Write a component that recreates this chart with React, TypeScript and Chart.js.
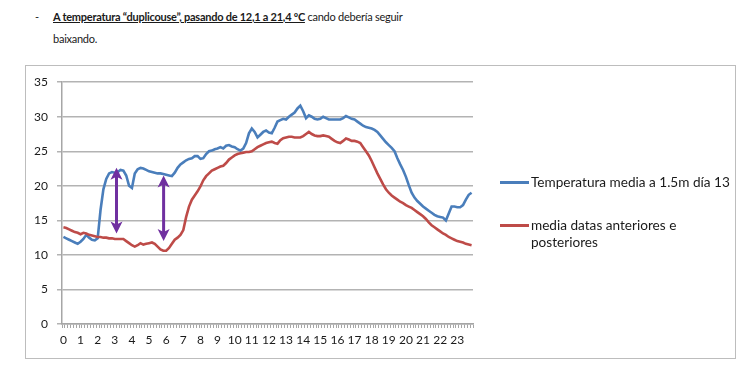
import React, { useEffect, useRef } from 'react';
import { Chart, registerables } from 'chart.js';

Chart.register(...registerables);

// Hour tick labels (data every 10 minutes, 6 samples per hour)
const hourLabels = ['0', '1', '2', '3', '4', '5', '6', '7', '8', '9', '10', '11', '12', '13', '14', '15', '16', '17', '18', '19', '20', '21', '22', '23'];
const minuteLabels = ['00', '10', '20', '30', '40', '50'];

// Temperatura media a 1.5m día 13
const tempDay13 = [
  12.6, 12.4, 12.2, 12.0, 11.8, 11.6,
  11.9, 12.3, 12.9, 12.5, 12.2, 12.1,
  12.4, 16.5, 19.5, 21.0, 21.8, 22.0,
  21.9, 22.0, 22.3, 22.2, 21.5, 20.0,
  19.7, 21.8, 22.4, 22.6, 22.5, 22.3,
  22.1, 22.0, 21.9, 21.8, 21.8, 21.7,
  21.6, 21.5, 21.4, 21.9, 22.6, 23.1,
  23.4, 23.7, 23.9, 24.0, 24.3, 24.3,
  23.9, 24.0, 24.6, 25.0, 25.1, 25.3,
  25.4, 25.6, 25.4, 25.8, 25.9, 25.7,
  25.6, 25.3, 25.1, 25.4, 26.2, 27.6,
  28.3, 27.8, 27.0, 27.4, 27.8, 28.0,
  27.7, 27.6, 28.4, 29.3, 29.5, 29.7,
  29.6, 30.0, 30.3, 30.6, 31.2, 31.6,
  30.8, 29.8, 30.2, 30.0, 29.7, 29.6,
  29.7, 30.0, 29.8, 29.6, 29.6, 29.6,
  29.6, 29.6, 29.8, 30.1, 29.9, 29.7,
  29.6, 29.3, 29.0, 28.7, 28.5, 28.4,
  28.3, 28.1, 27.8, 27.3, 26.8, 26.3,
  25.9, 25.5, 25.0, 24.0, 23.1, 22.3,
  21.3, 20.1, 19.0, 18.3, 17.8, 17.4,
  17.0, 16.7, 16.4, 16.1, 15.8, 15.6,
  15.5, 15.4, 15.0, 16.0, 17.0, 17.0,
  16.9, 16.9, 17.2, 18.0, 18.7, 19.0,
];

// media datas anteriores e posteriores
const tempMeanAround = [
  14.0, 13.9, 13.7, 13.5, 13.3, 13.2,
  13.0, 13.2, 13.1, 12.9, 12.8, 12.7,
  12.6, 12.6, 12.5, 12.5, 12.4, 12.4,
  12.3, 12.3, 12.3, 12.3, 12.0, 11.7,
  11.4, 11.2, 11.4, 11.7, 11.5, 11.6,
  11.7, 11.8, 11.6, 11.2, 10.8, 10.6,
  10.6, 11.0, 11.6, 12.2, 12.5, 12.9,
  13.6, 15.5, 17.0, 18.0, 18.6, 19.2,
  19.9, 20.8, 21.4, 21.8, 22.2, 22.4,
  22.6, 22.8, 22.9, 23.3, 23.8, 24.1,
  24.4, 24.6, 24.7, 24.8, 24.9, 24.9,
  25.0, 25.3, 25.6, 25.8, 26.0, 26.2,
  26.3, 26.4, 26.2, 26.1, 26.6, 26.9,
  27.0, 27.1, 27.1, 27.0, 27.0, 27.0,
  27.2, 27.5, 27.8, 27.5, 27.3, 27.2,
  27.2, 27.3, 27.2, 27.1, 26.8, 26.5,
  26.3, 26.2, 26.5, 26.85, 26.7, 26.5,
  26.5, 26.4, 26.2, 25.6, 25.0, 24.4,
  23.6, 22.7, 21.8, 21.0, 20.2, 19.5,
  19.0, 18.6, 18.3, 18.0, 17.7, 17.5,
  17.2, 17.0, 16.8, 16.5, 16.2, 15.9,
  15.6, 15.2, 14.7, 14.3, 14.0, 13.7,
  13.4, 13.1, 12.9, 12.6, 12.4, 12.2,
  12.0, 11.9, 11.8, 11.6, 11.5, 11.4,
];

// Purple double arrows (hour, top value, bottom value)
const arrowHours = [3.1, 5.85];
const arrowTops = [22.6, 21.5];
const arrowBottoms = [13.1, 12.0];

const seriesNames = ['Temperatura media a 1.5m día 13', 'media datas anteriores e posteriores'];

const BLUE = '#4A7EBB';
const RED = '#BE4B48';
const PURPLE = '#7030A0';
const GRID = '#B3B3B3';
const FONT = 'Lato, "Open Sans", sans-serif';

const categories = hourLabels.flatMap((h) => minuteLabels.map((m) => `${h}:${m}`));

const arrowPlugin = {
  id: 'purpleArrows',
  afterDatasetsDraw(chart: any) {
    const { ctx, scales } = chart;
    const xs = scales.x;
    const ys = scales.y;
    ctx.save();
    ctx.strokeStyle = PURPLE;
    ctx.fillStyle = PURPLE;
    ctx.lineWidth = 3;
    arrowHours.forEach((h, i) => {
      const x = xs.getPixelForValue(h * minuteLabels.length);
      const yT = ys.getPixelForValue(arrowTops[i]);
      const yB = ys.getPixelForValue(arrowBottoms[i]);
      ctx.beginPath();
      ctx.moveTo(x, yT + 6);
      ctx.lineTo(x, yB - 6);
      ctx.stroke();
      // top head
      ctx.beginPath();
      ctx.moveTo(x, yT);
      ctx.lineTo(x - 6, yT + 12);
      ctx.lineTo(x, yT + 9);
      ctx.lineTo(x + 6, yT + 12);
      ctx.closePath();
      ctx.fill();
      // bottom head
      ctx.beginPath();
      ctx.moveTo(x, yB);
      ctx.lineTo(x - 6, yB - 12);
      ctx.lineTo(x, yB - 9);
      ctx.lineTo(x + 6, yB - 12);
      ctx.closePath();
      ctx.fill();
    });
    ctx.restore();
  },
};

export default function App() {
  const ref = useRef<HTMLCanvasElement | null>(null);

  useEffect(() => {
    if (!ref.current) return;
    const chart = new Chart(ref.current, {
      type: 'line',
      data: {
        labels: categories,
        datasets: [
          {
            label: seriesNames[0],
            data: tempDay13,
            borderColor: BLUE,
            backgroundColor: BLUE,
            borderWidth: 2.6,
            pointRadius: 0,
            tension: 0,
            order: 1,
          },
          {
            label: seriesNames[1],
            data: tempMeanAround,
            borderColor: RED,
            backgroundColor: RED,
            borderWidth: 2.6,
            pointRadius: 0,
            tension: 0,
            order: 0,
          },
        ],
      },
      options: {
        animation: false,
        responsive: false,
        devicePixelRatio: 1,
        layout: { padding: { top: 16, right: 262, left: 0, bottom: 0 } },
        plugins: { legend: { display: false }, tooltip: { enabled: false } },
        scales: {
          x: {
            type: 'category',
            offset: true,
            grid: { drawOnChartArea: false, drawTicks: true, tickLength: 4, offset: true, color: '#A6A6A6', lineWidth: 1 },
            border: { color: '#A6A6A6', width: 1.5 },
            ticks: {
              autoSkip: false,
              maxRotation: 0,
              minRotation: 0,
              padding: 5,
              color: '#1a1a1a',
              font: { family: FONT, size: 12 },
              callback: (_v: any, i: number) => (i % minuteLabels.length === 0 ? hourLabels[i / minuteLabels.length] : ''),
            },
            afterFit: (s: any) => { s.height = 34; },
          },
          y: {
            min: 0,
            max: 35,
            grid: { color: GRID, lineWidth: 1.5, tickLength: 5 },
            border: { color: '#A6A6A6', width: 1.5 },
            ticks: { stepSize: 5, padding: 9, color: '#1a1a1a', font: { family: FONT, size: 12 } },
            afterFit: (s: any) => { s.width = 36; },
          },
        },
      },
      plugins: [arrowPlugin],
    });
    return () => chart.destroy();
  }, []);

  const textStyle: React.CSSProperties = {
    position: 'absolute',
    fontFamily: FONT,
    fontSize: 11,
    letterSpacing: '-0.25px',
    lineHeight: '16px',
    color: '#1a1a1a',
    whiteSpace: 'nowrap',
  };
  const legendText: React.CSSProperties = {
    position: 'absolute',
    fontFamily: FONT,
    fontSize: 13.6,
    lineHeight: '17px',
    color: '#1a1a1a',
    whiteSpace: 'nowrap',
  };

  return (
    <div style={{ position: 'absolute', left: 0, top: 0, width: 739, height: 375, background: '#fff', overflow: 'hidden' }}>
      <div style={{ ...textStyle, left: 35, top: 9 }}>-</div>
      <div style={{ ...textStyle, left: 53, top: 9 }}>
        <span style={{ fontWeight: 700, textDecoration: 'underline' }}>A temperatura “duplicouse”, pasando de 12,1 a 21,4 ºC</span> cando debería seguir
      </div>
      <div style={{ ...textStyle, left: 53, top: 31 }}>baixando.</div>
      <div style={{ position: 'absolute', left: 25, top: 65, width: 709, height: 292, border: '1px solid #BDBDBD' }}>
        <canvas ref={ref} width={709} height={292} style={{ display: 'block', width: 709, height: 292 }} />
      </div>
      <div style={{ position: 'absolute', left: 500, top: 181, width: 29, height: 3, background: BLUE }} />
      <div style={{ ...legendText, left: 531, top: 173.5 }}>{seriesNames[0]}</div>
      <div style={{ position: 'absolute', left: 500, top: 224, width: 29, height: 3, background: RED }} />
      <div style={{ ...legendText, left: 531, top: 216.5 }}>media datas anteriores e</div>
      <div style={{ ...legendText, left: 531, top: 233.5 }}>posteriores</div>
    </div>
  );
}
